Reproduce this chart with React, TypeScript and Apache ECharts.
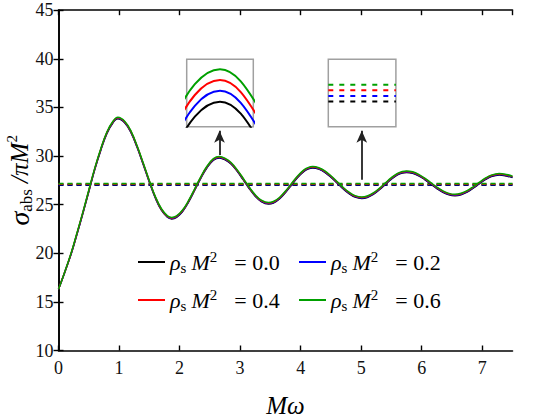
import React, { useEffect, useRef } from "react";
import * as echarts from "echarts";

// M*omega sample positions
const omega = [
  0, 0.1, 0.21, 0.3, 0.4, 0.5, 0.6, 0.7, 0.8, 0.9, 0.98,
  1.1, 1.2, 1.3, 1.4, 1.5, 1.6, 1.7, 1.8, 1.87,
  1.95, 2.05, 2.15, 2.25, 2.35, 2.45, 2.56, 2.66,
  2.76, 2.85, 2.95, 3.05, 3.15, 3.25, 3.35, 3.47,
  3.55, 3.65, 3.75, 3.85, 3.95, 4.05, 4.12, 4.2,
  4.3, 4.4, 4.5, 4.6, 4.7, 4.8, 4.9, 5.01,
  5.1, 5.2, 5.3, 5.4, 5.5, 5.6, 5.68, 5.75,
  5.85, 5.95, 6.05, 6.15, 6.25, 6.35, 6.45, 6.55,
  6.65, 6.75, 6.85, 6.95, 7.05, 7.15, 7.28, 7.4, 7.5,
];

const sigmaRho00 = [
  16.3, 17.98, 19.94, 21.84, 24.03, 26.33, 28.63, 30.63, 32.33, 33.43, 33.83,
  33.38, 32.38, 30.88, 29.13, 27.33, 25.68, 24.43, 23.7, 23.53,
  23.69, 24.3, 25.28, 26.48, 27.71, 28.77, 29.58, 29.8,
  29.58, 29.18, 28.45, 27.57, 26.66, 25.87, 25.31, 25.06,
  25.17, 25.59, 26.25, 27.03, 27.8, 28.4, 28.66, 28.77,
  28.65, 28.32, 27.82, 27.24, 26.64, 26.13, 25.78, 25.64,
  25.74, 26.05, 26.53, 27.09, 27.63, 28.06, 28.26, 28.32,
  28.23, 27.97, 27.58, 27.12, 26.66, 26.27, 26.01, 25.92,
  26.02, 26.29, 26.69, 27.14, 27.57, 27.89, 28.05, 27.95, 27.78,
];

const sigmaRho02 = [
  16.3, 18.0, 19.98, 21.88, 24.08, 26.38, 28.68, 30.68, 32.38, 33.48, 33.88,
  33.43, 32.43, 30.93, 29.18, 27.38, 25.73, 24.48, 23.75, 23.58,
  23.74, 24.35, 25.33, 26.53, 27.76, 28.82, 29.63, 29.85,
  29.63, 29.23, 28.5, 27.62, 26.71, 25.92, 25.36, 25.11,
  25.22, 25.64, 26.3, 27.08, 27.85, 28.45, 28.71, 28.82,
  28.7, 28.37, 27.87, 27.29, 26.69, 26.18, 25.83, 25.69,
  25.79, 26.1, 26.58, 27.14, 27.68, 28.11, 28.31, 28.37,
  28.28, 28.02, 27.63, 27.17, 26.71, 26.32, 26.06, 25.97,
  26.07, 26.34, 26.74, 27.19, 27.62, 27.94, 28.1, 28.0, 27.83,
];

const sigmaRho04 = [
  16.3, 18.01, 20.02, 21.93, 24.13, 26.43, 28.73, 30.73, 32.43, 33.53, 33.93,
  33.48, 32.48, 30.98, 29.23, 27.43, 25.78, 24.53, 23.8, 23.63,
  23.79, 24.4, 25.38, 26.58, 27.81, 28.87, 29.68, 29.9,
  29.68, 29.28, 28.55, 27.67, 26.76, 25.97, 25.41, 25.16,
  25.27, 25.69, 26.35, 27.13, 27.9, 28.5, 28.76, 28.87,
  28.75, 28.42, 27.92, 27.34, 26.74, 26.23, 25.88, 25.74,
  25.84, 26.15, 26.63, 27.19, 27.73, 28.16, 28.36, 28.42,
  28.33, 28.07, 27.68, 27.22, 26.76, 26.37, 26.11, 26.02,
  26.12, 26.39, 26.79, 27.24, 27.67, 27.99, 28.15, 28.05, 27.88,
];

const sigmaRho06 = [
  16.3, 18.03, 20.06, 21.98, 24.18, 26.48, 28.78, 30.78, 32.48, 33.58, 33.98,
  33.53, 32.53, 31.03, 29.28, 27.48, 25.83, 24.58, 23.85, 23.68,
  23.84, 24.45, 25.43, 26.63, 27.86, 28.92, 29.73, 29.95,
  29.73, 29.33, 28.6, 27.72, 26.81, 26.02, 25.46, 25.21,
  25.32, 25.74, 26.4, 27.18, 27.95, 28.55, 28.81, 28.92,
  28.8, 28.47, 27.97, 27.39, 26.79, 26.28, 25.93, 25.79,
  25.89, 26.2, 26.68, 27.24, 27.78, 28.21, 28.41, 28.47,
  28.38, 28.12, 27.73, 27.27, 26.81, 26.42, 26.16, 26.07,
  26.17, 26.44, 26.84, 27.29, 27.72, 28.04, 28.2, 28.1, 27.93,
];

// high-frequency (geometric optics) limits, dashed lines
const sigmaLimit = [27.02, 27.07, 27.12, 27.17];
const rhoValues = ["0.0", "0.2", "0.4", "0.6"];
const seriesColors = ["#000000", "#0000ff", "#ff0000", "#00a000"];
const curves = [sigmaRho00, sigmaRho02, sigmaRho04, sigmaRho06];

// arrows (x, from y, to y) in data coords
const arrowX = [2.66, 5.01];
const arrowFrom = [30.1, 27.55];
const arrowTo = [32.6, 32.6];

const SERIF = "Liberation Serif";

export default function App() {
  const ref = useRef<HTMLDivElement>(null);
  useEffect(() => {
    document.body.style.margin = "0";
    const chart = echarts.init(ref.current!, null, { renderer: "svg" });
    const names = rhoValues.map((v) => `ρs M² = ${v}`);

    const series: any[] = [];
    sigmaLimit.forEach((v, k) => {
      series.push({
        type: "line",
        name: names[k] + " limit",
        xAxisIndex: 0,
        yAxisIndex: 0,
        data: [[0, v], [7.5, v]],
        symbol: "none",
        silent: true,
        lineStyle: { color: seriesColors[k], width: 1.8, type: [5, 4] },
        z: 2,
      });
    });
    curves.forEach((arr, k) => {
      const s: any = {
        type: "line",
        name: names[k],
        xAxisIndex: 0,
        yAxisIndex: 0,
        data: omega.map((x, i) => [x, arr[i]]),
        symbol: "none",
        smooth: 0.4,
        color: seriesColors[k],
        lineStyle: { color: seriesColors[k], width: 1.5 },
        z: 3,
      };
      if (k === 0) {
        s.markLine = {
          silent: true,
          symbol: ["none", "arrow"],
          symbolSize: [8, 12],
          label: { show: false },
          lineStyle: { color: "#222", width: 1.8, type: "solid" },
          data: arrowX.map((x, j) => [
            { coord: [x, arrowFrom[j]] },
            { coord: [x, arrowTo[j]] },
          ]),
        };
      }
      series.push(s);
    });
    curves.forEach((arr, k) => {
      series.push({
        type: "line",
        name: names[k] + " inset",
        xAxisIndex: 2,
        yAxisIndex: 2,
        data: omega.map((x, i) => [x, arr[i]]),
        symbol: "none",
        smooth: 0.4,
        silent: true,
        clip: true,
        lineStyle: { color: seriesColors[k], width: 2 },
        z: 6,
      });
    });
    sigmaLimit.forEach((v, k) => {
      series.push({
        type: "line",
        name: names[k] + " limit inset",
        xAxisIndex: 3,
        yAxisIndex: 3,
        data: [[0, v], [7.5, v]],
        symbol: "none",
        silent: true,
        clip: true,
        lineStyle: { color: seriesColors[k], width: 2, type: [5, 6] },
        z: 6,
      });
    });

    const legendRich = {
      i: { fontFamily: SERIF, fontStyle: "italic", fontSize: 22, color: "#000", lineHeight: 26, verticalAlign: "middle" },
      s: { fontFamily: SERIF, fontSize: 15, color: "#000", lineHeight: 16, verticalAlign: "bottom", padding: [0, 5, 0, 0] },
      p: { fontFamily: SERIF, fontSize: 15, color: "#000", lineHeight: 14, verticalAlign: "top" },
      n: { fontFamily: SERIF, fontSize: 22, color: "#000", lineHeight: 26, verticalAlign: "middle", padding: [0, 0, 0, 17] },
    };
    const legendPos = [
      [133, 244],
      [294, 244],
      [133, 282],
      [294, 282],
    ];
    const legends = names.map((nm, k) => ({
      data: [nm],
      left: legendPos[k][0],
      top: legendPos[k][1],
      icon: "rect",
      itemWidth: 27,
      itemHeight: 2,
      selectedMode: false,
      formatter: () => `{i|ρ}{s|s}{i|M}{p|2}{n|= ${rhoValues[k]}}`,
      textStyle: { fontFamily: SERIF, rich: legendRich },
    }));

    const axisLine = { show: true, lineStyle: { color: "#000", width: 1.6 } };
    const tick = { show: true, inside: true, length: 5, lineStyle: { color: "#000", width: 1.4 } };
    const tickLabel = { fontFamily: SERIF, fontSize: 18, color: "#111" };

    chart.setOption({
      animation: false,
      backgroundColor: "#fff",
      textStyle: { fontFamily: SERIF },
      grid: [
        { left: 58.5, top: 10.2, right: 23.5, bottom: 66.5, show: false, outerBoundsMode: "none", containLabel: false },
        { left: 186.7, top: 59.3, width: 66.6, height: 67.4, show: true, borderColor: "#a0a0a0", borderWidth: 1.5, backgroundColor: "#fff", outerBoundsMode: "none" },
        { left: 328.3, top: 59.3, width: 67.6, height: 67.4, show: true, borderColor: "#a0a0a0", borderWidth: 1.5, backgroundColor: "#fff", outerBoundsMode: "none" },
      ],
      xAxis: [
        {
          type: "value", gridIndex: 0, min: 0, max: 7.5, interval: 1,
          axisLine, axisTick: tick, splitLine: { show: false },
          axisLabel: { ...tickLabel, margin: 8, showMaxLabel: false },
          name: "{i|Mω}",
          nameLocation: "middle",
          nameGap: 42,
          nameMoveOverlap: false,
          nameTextStyle: { rich: { i: { fontFamily: SERIF, fontStyle: "italic", fontSize: 25, color: "#000" } } },
        },
        {
          type: "value", gridIndex: 0, position: "top", min: 0, max: 7.5, interval: 1,
          axisLine, axisTick: tick, splitLine: { show: false }, axisLabel: { show: false },
        },
        { type: "value", gridIndex: 1, min: 2.585, max: 2.735, show: false },
        { type: "value", gridIndex: 2, min: 0, max: 7.5, show: false },
      ],
      yAxis: [
        {
          type: "value", gridIndex: 0, min: 10, max: 45, interval: 5,
          axisLine, axisTick: tick, splitLine: { show: false },
          axisLabel: { ...tickLabel, margin: 5 },
          name: "{g|σ}{b|abs}{n| /πM}{p|2}",
          nameLocation: "middle",
          nameGap: 24,
          nameMoveOverlap: false,
          nameTextStyle: {
            rich: {
              g: { fontFamily: SERIF, fontStyle: "italic", fontSize: 28, color: "#000", lineHeight: 30, verticalAlign: "middle" },
              b: { fontFamily: SERIF, fontSize: 17, color: "#000", lineHeight: 17, verticalAlign: "bottom" },
              n: { fontFamily: SERIF, fontStyle: "italic", fontSize: 25, color: "#000", lineHeight: 30, verticalAlign: "middle" },
              p: { fontFamily: SERIF, fontSize: 15, color: "#000", lineHeight: 15, verticalAlign: "top" },
            },
          },
        },
        {
          type: "value", gridIndex: 0, position: "right", min: 10, max: 45, interval: 5,
          axisLine, axisTick: tick, splitLine: { show: false }, axisLabel: { show: false },
        },
        { type: "value", gridIndex: 1, min: 29.684, max: 29.996, show: false },
        { type: "value", gridIndex: 2, min: 26.795, max: 27.397, show: false },
      ],
      legend: legends,
      series,
    });
    return () => chart.dispose();
  }, []);
  return (
    <div
      ref={ref}
      style={{ position: "fixed", left: 0, top: 0, width: 536, height: 417 }}
    />
  );
}
